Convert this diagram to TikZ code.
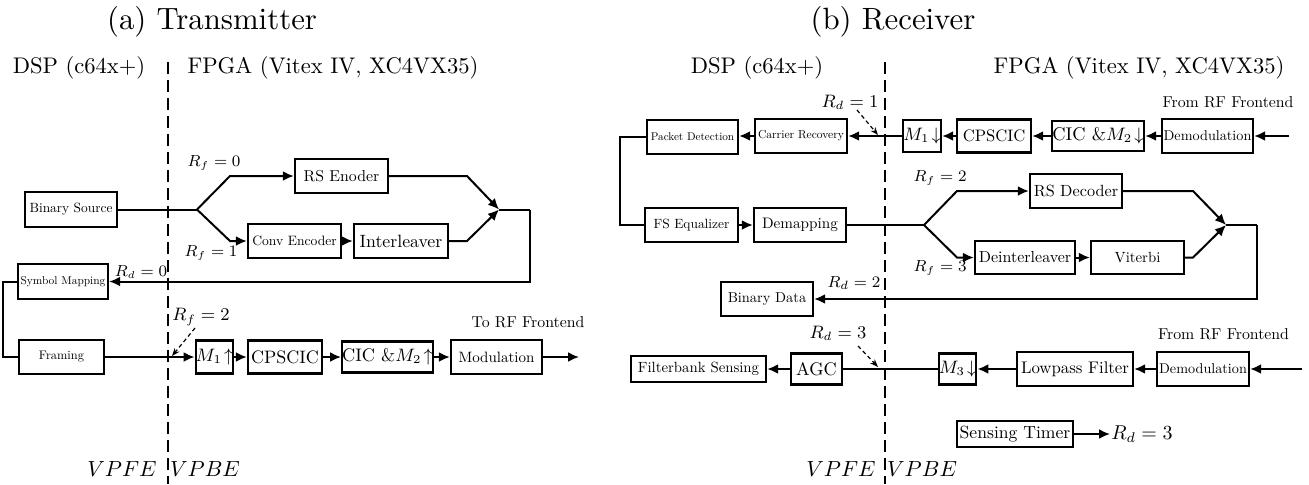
\documentclass[tikz,border=0pt]{standalone}
\usepackage{fontspec}
\setmainfont{lmroman10-regular}[Extension=.otf,
  BoldFont=lmroman10-bold, ItalicFont=lmroman10-italic,
  BoldItalicFont=lmroman10-bolditalic]
\usetikzlibrary{arrows.meta}
\newcommand\fsz[1]{\fontsize{#1pt}{#1pt}\selectfont}

\begin{document}
\begin{tikzpicture}[x=0.5pt,y=-0.5pt,
  blk/.style={draw,line width=1.2pt,inner sep=0pt,align=center},
  conn/.style={line width=1pt},
  arr/.style={line width=1pt,-{Latex[length=5.5pt,width=5pt]}},
  hint/.style={line width=0.6pt,dash pattern=on 2pt off 1.5pt,-{Stealth[length=4pt,width=3pt]}},
  divider/.style={line width=1pt,dash pattern=on 6pt off 3pt},
  lbl/.style={inner sep=0pt},
]
\useasboundingbox (0,0) rectangle (1309,484);

% ---------------- (a) Transmitter ----------------
\node[lbl,font=\fsz{15.4}] (ttl) at (212,22) {(a) Transmitter};
\node[lbl,font=\fsz{11.3}] (tdsp) at (79,68) {DSP (c64x+)};
\node[lbl,font=\fsz{11.3}] (tfpga) at (333,68) {FPGA (Vitex IV, XC4VX35)};
\coordinate (tdt) at (168,62);
\coordinate (tdb) at (168,484);
\draw[divider] (tdt) -- (tdb);

\node[blk,minimum width=46pt,minimum height=17.5pt,font=\fsz{6.7}] (bsrc) at (71,209.5) {Binary Source};
\node[blk,minimum width=46.5pt,minimum height=17pt,font=\fsz{7.9}] (rsenc) at (341.5,176) {RS Enoder};
\node[blk,minimum width=46.5pt,minimum height=17pt,font=\fsz{6.8}] (conv) at (294.5,241) {Conv Encoder};
\node[blk,minimum width=47pt,minimum height=17pt,font=\fsz{8.9}] (intl) at (401,241) {Interleaver};
\node[blk,minimum width=45pt,minimum height=17.5pt,font=\fsz{5.7}] (symmap) at (63,281.5) {Symbol Mapping};
\node[blk,minimum width=42.5pt,minimum height=17pt,font=\fsz{6.2}] (fram) at (61.5,357) {Framing};
\node[blk,minimum width=18.5pt,minimum height=16.5pt,font=\fsz{9}] (m1u) at (214.5,357) {$M_1\!\uparrow$};
\node[blk,minimum width=37pt,minimum height=16.5pt,font=\fsz{9}] (cps) at (285,357) {CPSCIC};
\node[blk,minimum width=44.5pt,minimum height=15.5pt,font=\fsz{9.1}] (cicu) at (387.5,357) {CIC $\&M_2\!\uparrow$};
\node[blk,minimum width=45.5pt,minimum height=17pt,font=\fsz{7.5}] (mod) at (496.5,357) {Modulation};

\coordinate (tb) at (197,209.5);
\coordinate (tbu) at (230,176);
\coordinate (tbd) at (230,241);
\coordinate (tmu) at (467,176);
\coordinate (tmd) at (467,241);
\coordinate (tm) at (499,209.5);
\coordinate (tr) at (530,209.5);
\coordinate (trd) at (530,281.5);
\coordinate (tl1) at (3,281.5);
\coordinate (tl2) at (3,357);
\coordinate (tout) at (579,357);

\draw[conn] (bsrc.east) -- (tb);
\draw[arr] (tb) -- (tbu) -- (rsenc.west);
\draw[arr] (tb) -- (tbd) -- (conv.west);
\draw[arr] (conv) -- (intl);
\draw[arr] (rsenc.east) -- (tmu) -- (tm);
\draw[arr] (intl.east) -- (tmd) -- (tm);
\draw[conn] (tm) -- (tr);
\draw[arr] (tr) -- (trd) -- (symmap.east);
\draw[conn] (symmap.west) -- (tl1) -- (tl2) -- (fram.west);
\draw[arr] (fram) -- (m1u);
\draw[arr] (m1u) -- (cps);
\draw[arr] (cps) -- (cicu);
\draw[arr] (cicu) -- (mod);
\draw[arr] (mod) -- (tout);

\node[lbl,font=\fsz{7.6}] (trf0) at (214,163) {$R_f=0$};
\node[lbl,font=\fsz{7.6}] (trf1) at (211,253) {$R_f=1$};
\node[lbl,font=\fsz{7.8}] (trd0) at (141,272) {$R_d=0$};
\node[lbl,font=\fsz{8.6}] (trf2) at (201,317) {$R_f=2$};
\coordinate (th1) at (195,328);
\coordinate (th2) at (172,356);
\draw[hint] (th1) -- (th2);
\node[lbl,font=\fsz{7.9}] (tto) at (528,322) {To RF Frontend};
\node[lbl,font=\fsz{11}] (tvpfe) at (122,469) {$VPFE$};
\node[lbl,font=\fsz{11}] (tvpbe) at (205,469) {$VPBE$};

% ---------------- (b) Receiver ----------------
\node[lbl,font=\fsz{15.4}] (rttl) at (893,22) {(b) Receiver};
\node[lbl,font=\fsz{11.3}] (rdsp) at (757,68) {DSP (c64x+)};
\node[lbl,font=\fsz{11.3}] (rfpga) at (1139,68) {FPGA (Vitex IV, XC4VX35)};
\coordinate (rdt) at (885,62);
\coordinate (rdb) at (885,484);
\draw[divider] (rdt) -- (rdb);

\node[lbl,font=\fsz{7.9}] (rfrom1) at (1228,102) {From RF Frontend};
\node[blk,minimum width=45.5pt,minimum height=17pt,font=\fsz{7.1}] (demod1) at (1207.5,136) {Demodulation};
\node[blk,minimum width=46pt,minimum height=15pt,font=\fsz{9.2}] (cicd) at (1098,136) {CIC $\&M_2\!\downarrow$};
\node[blk,minimum width=37pt,minimum height=16.5pt,font=\fsz{8.3}] (cpsd) at (994,136) {CPSCIC};
\node[blk,minimum width=19pt,minimum height=16pt,font=\fsz{8.8}] (m1d) at (922,136) {$M_1\!\downarrow$};
\node[blk,minimum width=46pt,minimum height=17pt,font=\fsz{5.8}] (carr) at (801,136) {Carrier Recovery};
\node[blk,minimum width=45.5pt,minimum height=17pt,font=\fsz{5.6}] (pkt) at (692.5,137) {Packet Detection};
\node[blk,minimum width=46.5pt,minimum height=17pt,font=\fsz{6.7}] (fseq) at (691.5,225) {FS Equalizer};
\node[blk,minimum width=46pt,minimum height=17pt,font=\fsz{7.6}] (demap) at (800,225) {Demapping};
\node[blk,minimum width=46pt,minimum height=17pt,font=\fsz{8.1}] (rsdec) at (1076,191) {RS Decoder};
\node[blk,minimum width=50pt,minimum height=16.5pt,font=\fsz{8.0}] (deint) at (1025,257.5) {Deinterleaver};
\node[blk,minimum width=46.5pt,minimum height=16.5pt,font=\fsz{7.4}] (vit) at (1137.5,257.5) {Viterbi};
\node[blk,minimum width=46pt,minimum height=17pt,font=\fsz{7.2}] (bdata) at (767,299) {Binary Data};

\coordinate (rin1) at (1289,136);
\coordinate (rl1) at (620,137);
\coordinate (rl2) at (620,225);
\coordinate (rb) at (924,225);
\coordinate (rbu) at (957,191);
\coordinate (rbd) at (957,257.5);
\coordinate (rmu) at (1193,191);
\coordinate (rmd) at (1193,257.5);
\coordinate (rm) at (1226,225);
\coordinate (rr) at (1257,225);
\coordinate (rrd) at (1257,299);

\draw[arr] (rin1) -- (demod1);
\draw[arr] (demod1) -- (cicd);
\draw[arr] (cicd) -- (cpsd);
\draw[arr] (cpsd) -- (m1d);
\draw[arr] (m1d) -- (carr);
\draw[arr] (carr.west) -- (carr.west -| pkt.east);
\draw[conn] (pkt.west) -- (rl1) -- (rl2) -- (fseq.west);
\draw[arr] (fseq) -- (demap);
\draw[conn] (demap.east) -- (rb);
\draw[arr] (rb) -- (rbu) -- (rsdec.west);
\draw[arr] (rb) -- (rbd) -- (deint.west);
\draw[arr] (deint) -- (vit);
\draw[arr] (rsdec.east) -- (rmu) -- (rm);
\draw[arr] (vit.east) -- (rmd) -- (rm);
\draw[conn] (rm) -- (rr);
\draw[arr] (rr) -- (rrd) -- (bdata.east);

\node[lbl,font=\fsz{8.6}] (rrd1) at (850,102) {$R_d=1$};
\coordinate (rh1) at (857,110);
\coordinate (rh2) at (878,135);
\draw[hint] (rh1) -- (rh2);
\node[lbl,font=\fsz{7.6}] (rrf2) at (940,178) {$R_f=2$};
\node[lbl,font=\fsz{7.6}] (rrf3) at (940,268) {$R_f=3$};
\node[lbl,font=\fsz{8.1}] (rrd2) at (854,283) {$R_d=2$};

\node[lbl,font=\fsz{7.9}] (rfrom2) at (1223.5,334) {From RF Frontend};
\node[blk,minimum width=46pt,minimum height=17pt,font=\fsz{7.1}] (demod2) at (1203,369) {Demodulation};
\node[blk,minimum width=58pt,minimum height=17pt,font=\fsz{8.4}] (lpf) at (1075,369) {Lowpass Filter};
\node[blk,minimum width=18.5pt,minimum height=15.5pt,font=\fsz{9}] (m3d) at (957.5,369) {$M_3\!\downarrow$};
\node[blk,minimum width=25.5pt,minimum height=15.5pt,font=\fsz{9.1}] (agc) at (816.5,369) {AGC};
\node[blk,minimum width=67.5pt,minimum height=13pt,font=\fsz{7.4}] (fbs) at (698.5,369) {Filterbank Sensing};
\coordinate (rin2) at (1302,369);

\draw[arr] (rin2) -- (demod2);
\draw[arr] (demod2) -- (lpf);
\draw[arr] (lpf) -- (m3d);
\draw[conn] (m3d) -- (agc);
\draw[arr] (agc) -- (fbs);

\node[lbl,font=\fsz{8.6}] (rrd3) at (838,333) {$R_d=3$};
\coordinate (rh3) at (858,346);
\coordinate (rh4) at (878,367);
\draw[hint] (rh3) -- (rh4);

\node[blk,minimum width=58pt,minimum height=13pt,font=\fsz{8.8}] (timer) at (1015,434) {Sensing Timer};
\coordinate (rtend) at (1110,434);
\draw[arr] (timer) -- (rtend);
\node[lbl,font=\fsz{9.6},anchor=west] (rtrd3) at (1111,434) {$R_d=3$};

\node[lbl,font=\fsz{11}] (rvpfe) at (841,469) {$VPFE$};
\node[lbl,font=\fsz{11}] (rvpbe) at (922,469) {$VPBE$};
\end{tikzpicture}
\end{document}
